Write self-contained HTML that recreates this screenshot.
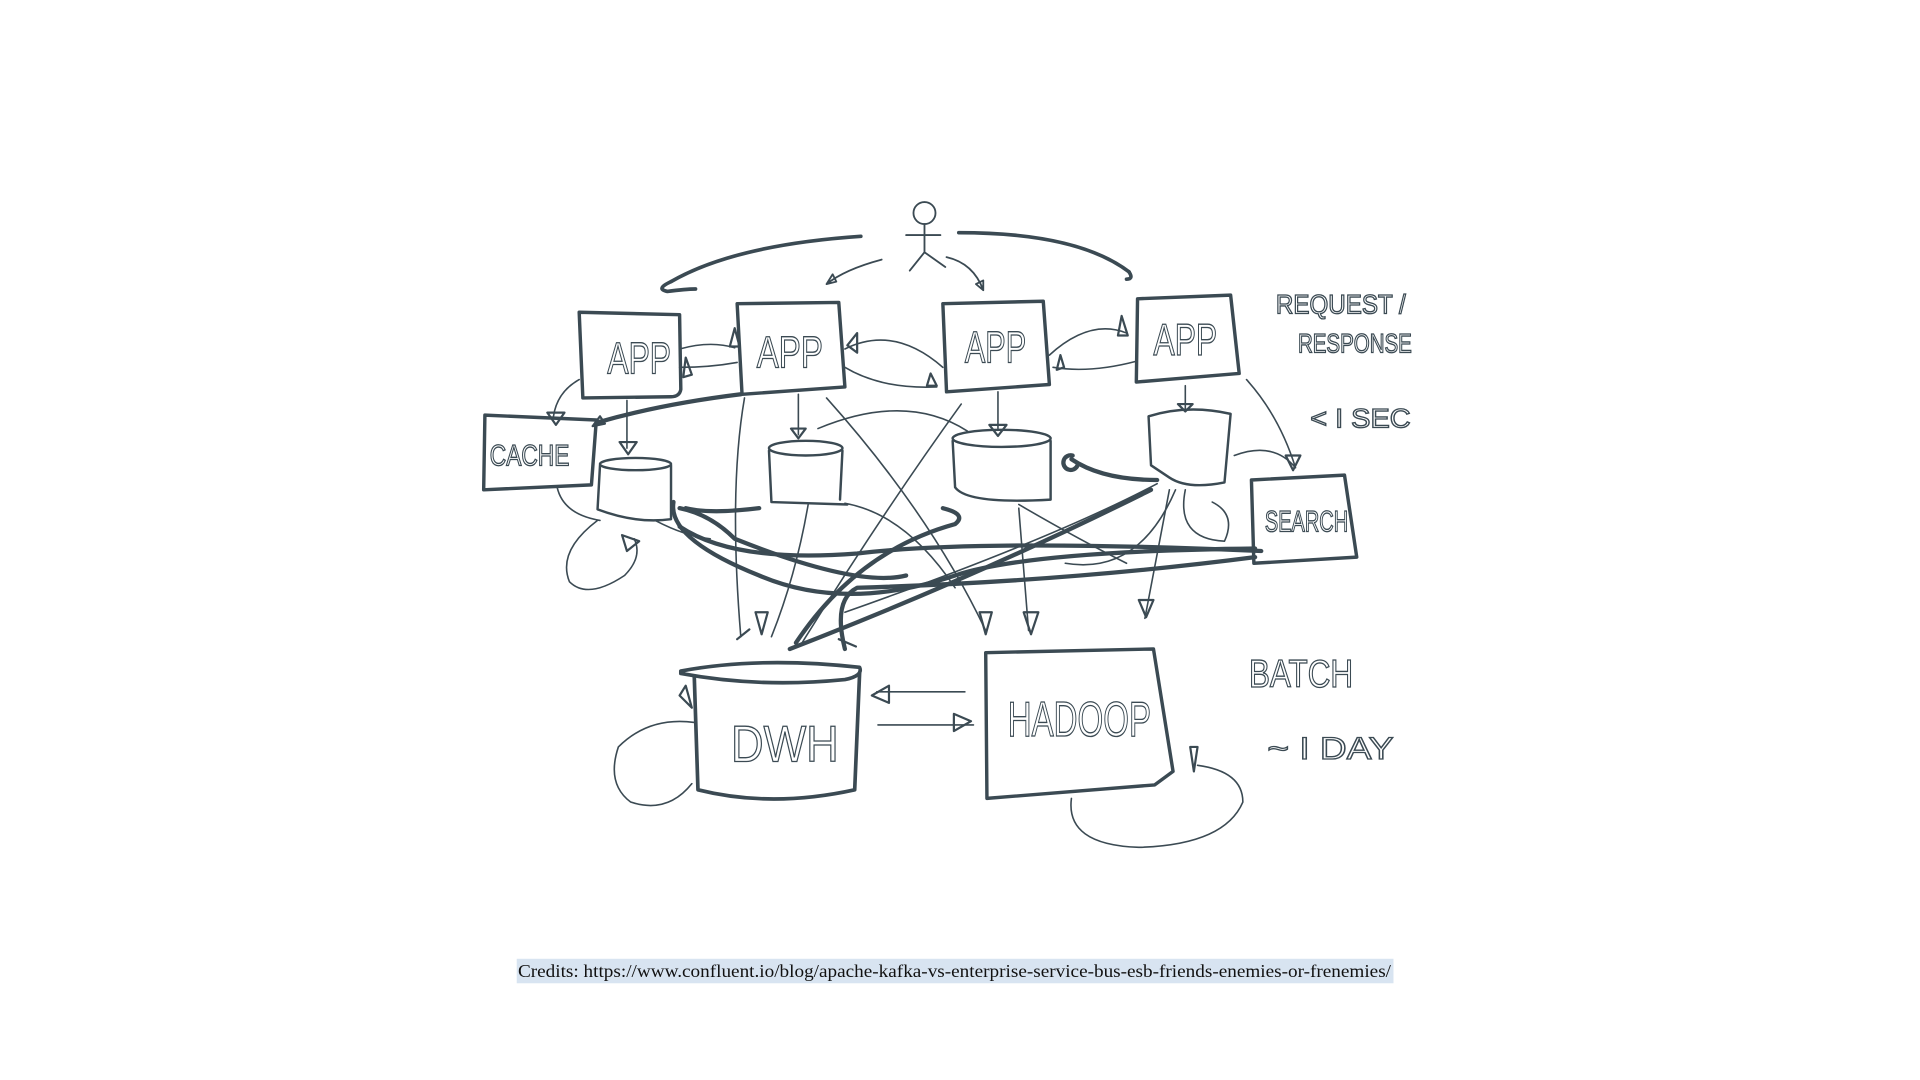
<!DOCTYPE html>
<html><head><meta charset="utf-8"><style>
html,body{margin:0;padding:0;background:#fff;width:1920px;height:1080px;overflow:hidden}
svg{display:block}
.s{fill:none;stroke:#3b4a53;stroke-linecap:round;stroke-linejoin:round}
.t{font-family:"Liberation Sans",sans-serif;fill:none;stroke:#3b4a53;stroke-width:1.1}
</style></head><body>
<svg width="1920" height="1080" viewBox="0 0 1568 882" preserveAspectRatio="none">
<!-- stick figure -->
<g class="s" stroke-width="1.5">
<circle cx="755" cy="174" r="9"/>
<path d="M755 183 L755 206 M740 192 L768 192 M755 206 L743 221 M755 206 L772 218"/>
<path d="M720 212 Q690 220 675 232 M675 232 l8 -2 l-3 -6 z"/>
<path d="M773 210 Q795 215 803 237 M803 237 l-6 -5 l6 -3 z"/>
</g>
<g class="s" stroke-width="3">
<path d="M703 193 Q600 200 548 230"/>
<path d="M548 230 Q535 236 545 238 Q560 236 568 236"/>
<path d="M783 190 Q880 190 922 222"/>
<path d="M922 222 q4 6 -2 6"/>
</g>
<!-- boxes -->
<g class="s" stroke-width="2.8">
<path d="M473 255 L555 257 L556 318 Q555 324 548 324 L476 325 Z"/>
<path d="M602 248 L685 247 L690 316 L606 322 Z"/>
<path d="M770 248 L852 246 L857 314 L773 320 Z"/>
<path d="M929 244 L1005 241 L1012 305 L928 312 Z"/>
<path d="M396 339 L487 343 L483 396 L395 400 Z"/>
<path d="M1022 392 L1098 388 L1108 455 L1024 460 Z"/>
<path d="M805 533 L942 530 L958 630 L943 641 L806 652 Z"/>
</g>
<text class="t" x="496" y="305" font-size="36" textLength="52" lengthAdjust="spacingAndGlyphs">APP</text>
<text class="t" x="618" y="300" font-size="36" textLength="54" lengthAdjust="spacingAndGlyphs">APP</text>
<text class="t" x="788" y="296" font-size="36" textLength="50" lengthAdjust="spacingAndGlyphs">APP</text>
<text class="t" x="942" y="290" font-size="36" textLength="52" lengthAdjust="spacingAndGlyphs">APP</text>
<text class="t" x="400" y="380" font-size="24" textLength="65" lengthAdjust="spacingAndGlyphs">CACHE</text>
<text class="t" x="1033" y="434" font-size="24" textLength="68" lengthAdjust="spacingAndGlyphs">SEARCH</text>
<text class="t" x="823" y="601" font-size="40" textLength="117" lengthAdjust="spacingAndGlyphs">HADOOP</text>
<text class="t" x="597" y="622" font-size="42" textLength="88" lengthAdjust="spacingAndGlyphs">DWH</text>
<text class="t" x="1042" y="256" font-size="22" textLength="106" lengthAdjust="spacingAndGlyphs">REQUEST /</text>
<text class="t" x="1060" y="288" font-size="22" textLength="93" lengthAdjust="spacingAndGlyphs">RESPONSE</text>
<text class="t" x="1070" y="349" font-size="22" textLength="82" lengthAdjust="spacingAndGlyphs">&lt; I SEC</text>
<text class="t" x="1020" y="561" font-size="32" textLength="85" lengthAdjust="spacingAndGlyphs">BATCH</text>
<text class="t" x="1035" y="620" font-size="26" textLength="103" lengthAdjust="spacingAndGlyphs">~ I DAY</text>
<!-- cylinders -->
<g class="s" stroke-width="2">
<ellipse cx="519" cy="379" rx="29" ry="5"/>
<path d="M490 380 L488 416 Q520 428 548 424 L548 380"/>
<ellipse cx="658" cy="366" rx="30" ry="6"/>
<path d="M628 368 L630 410 L692 412 M688 368 L686 408"/>
<ellipse cx="818" cy="358" rx="40" ry="7"/>
<path d="M778 360 L780 398 Q790 412 858 408 L858 360"/>
<path d="M938 340 Q970 330 1005 338 L1000 394 Q970 400 955 390 L940 380 Z"/>
</g>
<g class="s" stroke-width="3">
<path d="M556 548 Q620 536 702 545 Q705 552 690 555 Q620 562 556 550 Z"/>
<path d="M567 553 L570 645 Q630 660 698 645 L702 550"/>
</g>
<!-- thin connectors -->
<g class="s" stroke-width="1.3">
<path d="M555 285 Q580 278 600 284 M555 300 Q580 300 602 296"/>
<path d="M690 285 Q730 265 770 300 M690 300 Q720 318 765 316"/>
<path d="M857 290 Q890 260 920 272 M860 300 Q890 305 928 295"/>
<path d="M473 310 Q455 320 452 340 M512 327 L512 366 M652 322 L652 355 M815 320 L815 350 M968 315 L968 335"/>
<path d="M1018 310 Q1045 340 1058 382 M1008 372 Q1040 360 1058 382"/>
<path d="M608 325 Q595 400 605 520"/>
<path d="M675 325 Q760 420 805 515"/>
<path d="M785 330 Q720 420 655 525"/>
<path d="M660 412 Q650 470 630 520"/>
<path d="M832 415 L840 515"/>
<path d="M955 400 L935 505"/>
<path d="M945 395 Q860 440 690 500"/>
<path d="M960 400 Q930 470 870 460"/>
<path d="M668 350 Q740 320 790 352"/>
<path d="M455 398 Q460 420 490 425 M488 425 Q455 450 465 475 Q480 490 510 470 Q525 455 518 440"/>
<path d="M535 425 Q560 438 580 440"/>
<path d="M968 400 Q960 440 1000 442 Q1010 420 990 410"/>
<path d="M690 411 Q740 420 780 480"/>
<path d="M832 412 Q880 440 920 460"/>
<path d="M716 565 L788 565 M717 592 L795 592"/>
<path d="M567 590 Q530 585 505 610 Q495 640 515 655 Q545 665 565 640"/>
<path d="M875 652 Q870 690 930 692 Q1000 690 1015 655 Q1015 630 978 625"/>
</g>
<!-- arrowheads -->
<g class="s" stroke-width="1.8">
<path d="M447 337 l14 0 l-7 10 z M506 361 l14 0 l-7 10 z M646 350 l12 0 l-6 8 z M808 347 l14 0 l-7 9 z M962 330 l12 0 l-6 6 z"/>
<path d="M1050 372 l12 0 l-6 12 z M600 268 l-4 15 l8 0 z M560 292 l5 14 l-7 2 z M700 272 l-8 10 l8 6 z M760 305 l5 10 l-8 0 z M916 258 l-3 16 l8 0 z M866 290 l-3 12 l6 -2 z"/>
<path d="M712 568 l14 -8 l0 14 z M793 589 l-14 8 l0 -14 z M508 437 l14 5 l-10 8 z"/>
<path d="M617 500 l10 0 l-5 18 z M602 522 l10 -8 M685 522 l14 6 M800 500 l10 0 l-5 18 z M836 500 l12 0 l-6 18 z M930 490 l12 0 l-6 14 z"/>
<path d="M490 340 l-6 8 l10 -2 z M555 568 l10 10 l-5 -18 z M972 610 l6 0 l-3 20 z"/>
</g>
<!-- thick connectors -->
<g class="s" stroke-width="3.5">
<path d="M605 322 Q540 330 488 345"/>
<path d="M550 410 Q545 440 620 470 Q690 500 780 470 Q840 450 1025 448"/>
<path d="M555 430 Q600 460 700 452 Q800 440 1030 450"/>
<path d="M770 415 Q790 420 780 428 Q700 450 650 525"/>
<path d="M1025 455 Q870 475 700 480 Q680 490 690 530"/>
<path d="M555 415 Q580 420 600 440 Q700 480 740 470"/>
<path d="M940 400 Q800 470 645 530"/>
<path d="M620 415 Q580 420 560 415"/>
<path d="M875 375 Q900 392 945 392"/>
<path d="M880 380 a6 6 0 1 1 -4 -8"/>
</g>
<!-- credits -->
<rect x="422" y="783" width="716" height="20" fill="#d8e4f1"/>
<text x="423" y="798" font-family="Liberation Serif,serif" font-size="15" fill="#111" textLength="713" lengthAdjust="spacingAndGlyphs">Credits:  https://www.confluent.io/blog/apache-kafka-vs-enterprise-service-bus-esb-friends-enemies-or-frenemies/</text>
</svg>
</body></html>
